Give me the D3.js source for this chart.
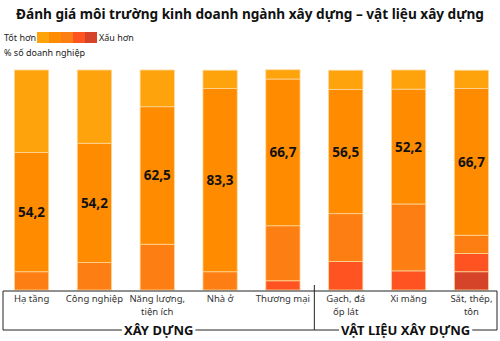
<!DOCTYPE html>
<html><head><meta charset="utf-8">
<script src="https://cdn.jsdelivr.net/npm/d3@7"></script>
<style>body{margin:0;background:#fff}svg{display:block}text{font-family:"Noto Sans",sans-serif}</style>
</head><body><svg id="c" width="500" height="341"></svg>
<script>
const categories = ["Hạ tầng","Công nghiệp","Năng lượng,\ntiện ích","Nhà ở","Thương mại","Gạch, đá\nốp lát","Xi măng","Sắt, thép,\ntôn"];
const levels = ["l1","l2","l3","l4","l5"];
const s1 = [37.5,33.3,16.7,8.3,4.2,8.7,8.7,8.3];
const s2 = [54.2,54.2,62.5,83.3,66.7,56.5,52.2,66.7];
const s3 = [8.3,12.5,20.8,8.3,25.0,21.7,30.4,8.3];
const s4 = [0,0,0,0,4.2,13.0,8.7,8.3];
const s5 = [0,0,0,0,0,0,0,8.3];
const labels = ["54,2","54,2","62,5","83,3","66,7","56,5","52,2","66,7"];
const groups = [{name:"XÂY DỰNG", from:0, to:4},{name:"VẬT LIỆU XÂY DỰNG", from:5, to:7}];
const colors = ["#ffa30c","#ff8c00","#fd7f14","#ff5322","#d54428"];

const svg = d3.select("#c");
const data = categories.map((c,i)=>({cat:c, l1:s1[i], l2:s2[i], l3:s3[i], l4:s4[i], l5:s5[i], lab:labels[i]}));

const x = d3.scaleBand().domain(categories).range([0,503]).paddingInner(0.455).paddingOuter(0.23);
const y = d3.scaleLinear().domain([100,0]).range([70,290]);
const st = d3.stack().keys(levels.slice().reverse())(data);

// Title
const title = svg.append("text").attr("x",250).attr("y",19).attr("text-anchor","middle")
  .attr("font-weight","bold").attr("font-size",16).attr("fill","#111")
  .text("Đánh giá môi trường kinh doanh ngành xây dựng – vật liệu xây dựng");
const tw = title.node().getComputedTextLength();
title.attr("font-size", 16*468/tw);

// legend
svg.append("text").attr("x",4).attr("y",41).attr("font-size",9).attr("fill","#222").text("Tốt hơn");
svg.selectAll(".lg").data(colors).join("rect").attr("x",(d,i)=>37+i*12).attr("y",32).attr("width",12).attr("height",11).attr("fill",d=>d);
svg.append("text").attr("x",99).attr("y",41).attr("font-size",9).attr("fill","#222").text("Xấu hơn");
svg.append("text").attr("x",4).attr("y",56).attr("font-size",9).attr("fill","#222").text("% số doanh nghiệp");

// bars
const keyColor = {l1:colors[0],l2:colors[1],l3:colors[2],l4:colors[3],l5:colors[4]};
svg.append("g").selectAll("g").data(st).join("g").attr("fill",d=>keyColor[d.key])
  .selectAll("rect").data(d=>d.filter(p=>p[1]-p[0]>0)).join("rect")
  .attr("x",d=>x(d.data.cat)).attr("width",x.bandwidth())
  .attr("y",d=>y(d[1])).attr("height",d=>y(d[0])-y(d[1]))
  .attr("stroke","#fcd79a").attr("stroke-width",0.8);

// value labels in middle of second segment
const l2 = st.find(s=>s.key==="l2");
svg.append("g").selectAll("text").data(l2).join("text")
  .attr("x",d=>x(d.data.cat)+x.bandwidth()/2).attr("y",d=>(y(d[0])+y(d[1]))/2+5)
  .attr("text-anchor","middle").attr("font-weight","bold").attr("font-size",13.5).attr("fill","#111")
  .text(d=>d.data.lab);

// axis line
svg.append("line").attr("x1",3).attr("x2",497).attr("y1",291).attr("y2",291).attr("stroke","#222").attr("stroke-width",1);

// category labels (one text per line)
const lines = [];
categories.forEach(c=>c.split("\n").forEach((s,i)=>lines.push({c, s, i})));
svg.append("g").selectAll("text").data(lines).join("text")
  .attr("x",d=>x(d.c)+x.bandwidth()/2).attr("y",d=>302+d.i*13)
  .attr("text-anchor","middle").attr("font-size",9.5).attr("fill","#333").text(d=>d.s);

// group brackets
const by = 330;
const divX = (x(categories[4])+x.bandwidth()+x(categories[5]))/2;
const bounds = [[3,divX],[divX,497]];
groups.forEach((g,i)=>{
  const [a,b]=bounds[i];
  const cx=(a+b)/2;
  const t = svg.append("text").attr("x",cx).attr("y",by+5).attr("text-anchor","middle")
    .attr("font-weight","bold").attr("font-size",13).attr("fill","#111").text(g.name);
  const w = t.node().getComputedTextLength();
  svg.append("line").attr("x1",a).attr("x2",cx-w/2-2).attr("y1",by).attr("y2",by).attr("stroke","#222");
  svg.append("line").attr("x1",cx+w/2+2).attr("x2",b).attr("y1",by).attr("y2",by).attr("stroke","#222");
});
svg.append("line").attr("x1",3).attr("x2",3).attr("y1",291).attr("y2",by).attr("stroke","#222");
svg.append("line").attr("x1",497).attr("x2",497).attr("y1",291).attr("y2",by).attr("stroke","#222");
svg.append("line").attr("x1",divX).attr("x2",divX).attr("y1",285).attr("y2",by).attr("stroke","#222");
</script></body></html>
